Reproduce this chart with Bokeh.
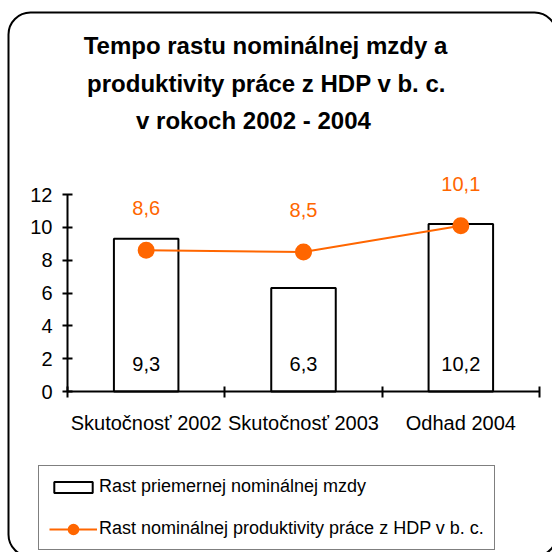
from bokeh.plotting import figure
from bokeh.models import (ColumnDataSource, Range1d, FixedTicker, Legend, LegendItem,
                          Label, BoxAnnotation)
from bokeh.core.properties import value
from bokeh.embed import file_html
from bokeh.resources import INLINE

# ---- data ----
categories = ["Skutočnosť 2002", "Skutočnosť 2003", "Odhad 2004"]
wage_growth = [9.3, 6.3, 10.2]
productivity_growth = [8.6, 8.5, 10.1]
y_ticks = [0, 2, 4, 6, 8, 10, 12]
title_lines = ["Tempo rastu nominálnej mzdy a",
               "produktivity práce z HDP v b. c.",
               "v rokoch 2002 - 2004"]
series_names = ["Rast priemernej nominálnej mzdy",
                "Rast nominálnej produktivity práce z HDP v b. c."]


def fmt(v):
    return f"{v:.1f}".replace(".", ",")


FONT = "Liberation Sans"
ORANGE = "#FF6600"
W = H = 552

# ---- layout geometry (pixels): where the axes origin / ends sit on the canvas ----
X0_PX, X1_PX = 67.0, 539.0      # x of first and last category boundary
Y0_PX, Y12_PX = 391.0, 194.0    # y of value 0 and of the top tick
ncat = len(categories)
ymax_tick = y_ticks[-1]
sx = (X1_PX - X0_PX) / ncat            # px per category
sy = (Y0_PX - Y12_PX) / ymax_tick      # px per unit


def px_x(px):
    return (px - X0_PX) / sx


def px_y(py):
    return (Y0_PX - py) / sy


xpos = [i + 0.5 for i in range(ncat)]
src = ColumnDataSource(dict(
    x=xpos,
    wage=wage_growth,
    prod=productivity_growth,
    base=[0] * ncat,
    wage_lbl=[fmt(v) for v in wage_growth],
    prod_lbl=[fmt(v) for v in productivity_growth],
))

p = figure(width=W, height=H, output_backend="svg", toolbar_location=None,
           x_range=Range1d(px_x(0), px_x(W)), y_range=Range1d(px_y(H), px_y(0)),
           min_border=0, min_border_left=0, min_border_right=0,
           min_border_top=0, min_border_bottom=0)
p.outline_line_color = None
p.grid.visible = False
p.background_fill_color = "white"
p.border_fill_color = "white"

# x axis: boundary ticks (minor), labels at centres
xa = p.xaxis[0]
xa.fixed_location = 0
xa.bounds = (0, ncat)
xa.ticker = FixedTicker(ticks=xpos, minor_ticks=list(range(ncat + 1)))
xa.major_label_overrides = {x: c for x, c in zip(xpos, categories)}
xa.axis_line_width = 2
xa.axis_line_color = "black"
xa.major_tick_in = 0
xa.major_tick_out = 0
xa.minor_tick_in = 5
xa.minor_tick_out = 6
xa.minor_tick_line_width = 2
xa.minor_tick_line_color = "black"
xa.major_label_text_font = FONT
xa.major_label_text_font_size = "20px"
xa.major_label_text_color = "black"
xa.major_label_standoff = 14

ya = p.yaxis[0]
ya.fixed_location = 0
ya.bounds = (0, ymax_tick)
ya.ticker = FixedTicker(ticks=y_ticks)
ya.axis_line_width = 2
ya.axis_line_color = "black"
ya.major_tick_in = 5
ya.major_tick_out = 5
ya.major_tick_line_width = 2
ya.major_tick_line_color = "black"
ya.minor_tick_line_color = None
ya.major_label_text_font = FONT
ya.major_label_text_font_size = "20px"
ya.major_label_text_color = "black"
ya.major_label_standoff = 10

bars = p.vbar(x="x", top="wage", width=0.41, source=src, fill_color="white",
              line_color="black", line_width=2)
line_r = p.line(x="x", y="prod", source=src, line_color=ORANGE, line_width=2)
pts = p.scatter(x="x", y="prod", source=src, size=11, fill_color=ORANGE,
                line_color=ORANGE, line_width=6)

p.text(x="x", y="prod", text="prod_lbl", source=src, y_offset=-42,
       text_align="center", text_baseline="alphabetic", text_color=ORANGE,
       text_font=value(FONT), text_font_size="20px")
p.text(x="x", y="base", text="wage_lbl", source=src, y_offset=-28,
       text_align="center", text_baseline="alphabetic", text_color="black",
       text_font=value(FONT), text_font_size="20px")

legend = Legend(items=[LegendItem(label=series_names[0], renderers=[bars]),
                       LegendItem(label=series_names[1], renderers=[line_r, pts])],
                location=(38, 2), orientation="vertical",
                label_text_font=FONT, label_text_font_size="18px",
                label_text_color="black", glyph_width=48, glyph_height=14,
                label_height=21, label_standoff=2, padding=10, spacing=21,
                margin=0, border_line_color="black", border_line_width=1,
                background_fill_color="white", background_fill_alpha=1)
p.add_layout(legend, "center")

# chart title, three centred lines
title_cx = [265, 266, 253]
title_base = [45, 82.5, 120]
for txt, cx, by in zip(title_lines, title_cx, title_base):
    p.add_layout(Label(x=px_x(cx), y=px_y(by), text=txt,
                       text_align="center", text_baseline="alphabetic",
                       text_font=FONT, text_font_style="bold",
                       text_font_size="24px", text_color="black"))

# rounded chart-area border (runs off the right and bottom edges, as in the source)
outer = BoxAnnotation(left=px_x(8), right=px_x(556), top=px_y(12), bottom=px_y(556),
                      fill_color=None, fill_alpha=0, line_color="black",
                      line_alpha=1, line_width=2, border_radius=22, level="overlay")
p.add_layout(outer)

open("out.html", "w").write(file_html(p, INLINE))
